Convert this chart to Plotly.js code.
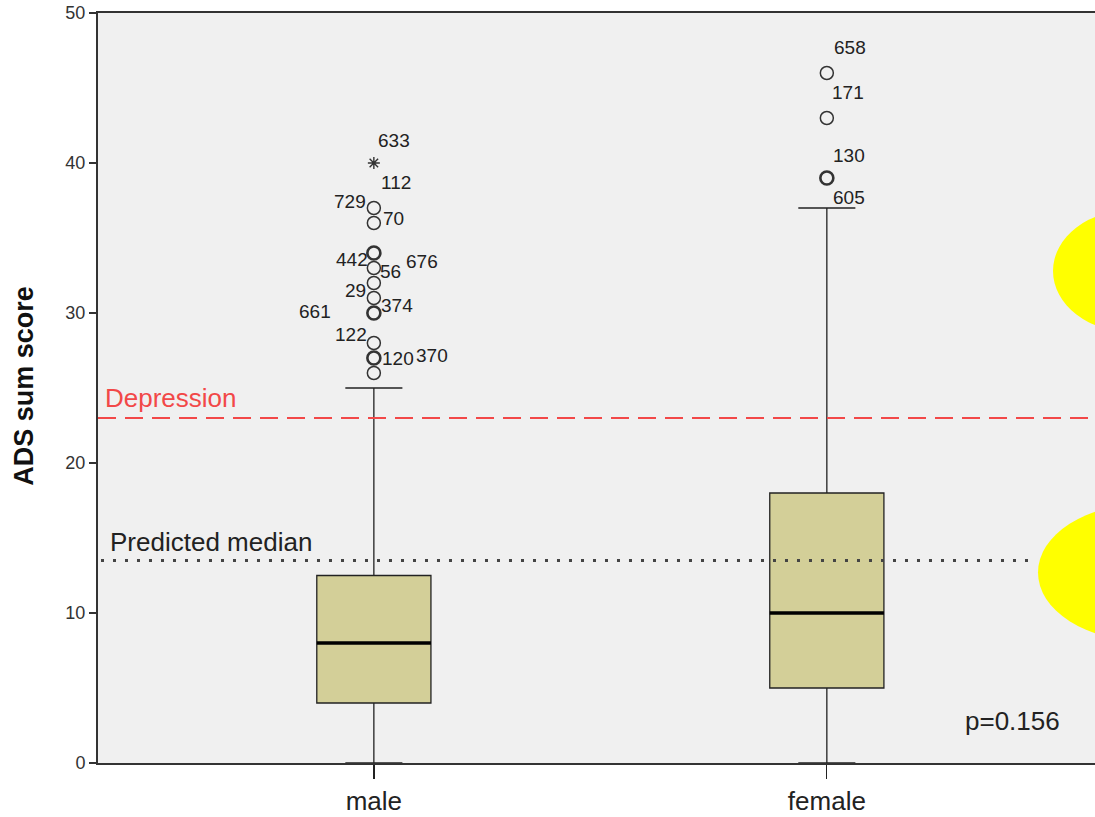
<!DOCTYPE html>
<html>
<head>
<meta charset="utf-8">
<script src="https://cdn.plot.ly/plotly-3.0.1.min.js"></script>
<style>html,body{margin:0;padding:0;background:#fff;}#chart{width:1095px;height:817px;}</style>
</head>
<body>
<div id="chart"></div>
<script>
// ---- data ----
const categories = ["male", "female"];
const q1Values = [4, 5];
const medianValues = [8, 10];
const q3Values = [12.5, 18];
const lowerWhisker = [0, 0];
const upperWhisker = [25, 37];

// outliers (circles) per group: value and number of overlapping cases
const maleOutlierValues = [37, 36, 34, 33, 32, 31, 30, 28, 27, 26];
const maleOutlierCounts = [1, 1, 2, 1, 1, 1, 2, 1, 2, 1];
const femaleOutlierValues = [46, 43, 39];
const femaleOutlierCounts = [1, 1, 2];
// extreme values (stars)
const maleExtremeValues = [40];

// case id labels and the value of the point they belong to
const maleLabelIds = ["633", "112", "729", "70", "442", "56", "676", "29", "374", "661", "122", "120", "370"];
const maleLabelValues = [40, 37, 37, 36, 34, 33, 33, 32, 31, 30, 28, 27, 27];
const femaleLabelIds = ["658", "171", "130", "605"];
const femaleLabelValues = [46, 43, 39, 39];

const depressionCutoff = 23;
const predictedMedian = 13.5;
const pValueText = "p=0.156";

// ---- styling (pixel offsets of labels) ----
const maleLabelOffsets = [[20,-23],[22,-26],[-24,-7],[20,-5],[-22,6],[17,3],[48,-7],[-18,7],[23,7],[-59,-2],[-23,-9],[24,0],[58,-3]];
const femaleLabelOffsets = [[23,-26],[21,-26],[22,-23],[22,19]];

const FONT = "Arial, 'Liberation Sans', sans-serif";
const boxWidth = 0.252;
const xPos = categories.map((c, i) => i);
const lineCol = "#222";

const traces = [];
categories.forEach((c, i) => {
  traces.push({
    type: "box",
    x: [xPos[i]],
    q1: [q1Values[i]],
    median: [medianValues[i]],
    q3: [q3Values[i]],
    lowerfence: [lowerWhisker[i]],
    upperfence: [upperWhisker[i]],
    width: boxWidth,
    whiskerwidth: 0.5,
    fillcolor: "#d3cf98",
    line: { color: lineCol, width: 1.3 },
    hoverinfo: "skip",
    showlegend: false
  });
});

traces.push({
  type: "scatter", mode: "markers",
  x: maleOutlierValues.map(() => xPos[0]), y: maleOutlierValues,
  marker: { symbol: "circle-open", size: 13, color: "#333",
            line: { width: maleOutlierCounts.map(n => n > 1 ? 2.6 : 1.5), color: "#333" } },
  showlegend: false, hoverinfo: "skip"
});
traces.push({
  type: "scatter", mode: "markers",
  x: femaleOutlierValues.map(() => xPos[1]), y: femaleOutlierValues,
  marker: { symbol: "circle-open", size: 13, color: "#333",
            line: { width: femaleOutlierCounts.map(n => n > 1 ? 2.6 : 1.5), color: "#333" } },
  showlegend: false, hoverinfo: "skip"
});
traces.push({
  type: "scatter", mode: "markers",
  x: maleExtremeValues.map(() => xPos[0]), y: maleExtremeValues,
  marker: { symbol: "asterisk-open", size: 10, color: "#333", line: { width: 1.4, color: "#333" } },
  showlegend: false, hoverinfo: "skip"
});

const annotations = [];
const labelFont = { family: FONT, size: 19, color: "#222" };
maleLabelIds.forEach((t, k) => {
  annotations.push({ x: xPos[0], y: maleLabelValues[k], xref: "x", yref: "y", text: t, showarrow: false,
    xshift: maleLabelOffsets[k][0], yshift: -maleLabelOffsets[k][1], font: labelFont });
});
femaleLabelIds.forEach((t, k) => {
  annotations.push({ x: xPos[1], y: femaleLabelValues[k], xref: "x", yref: "y", text: t, showarrow: false,
    xshift: femaleLabelOffsets[k][0], yshift: -femaleLabelOffsets[k][1], font: labelFont });
});
annotations.push({ x: 5/997, xref: "paper", y: depressionCutoff, yref: "y", text: "Depression",
  xanchor: "left", yanchor: "bottom", showarrow: false, yshift: 3,
  font: { family: FONT, size: 26, color: "#f24848" } });
annotations.push({ x: 10/997, xref: "paper", y: predictedMedian, yref: "y", text: "Predicted median",
  xanchor: "left", yanchor: "bottom", showarrow: false, yshift: 2,
  font: { family: FONT, size: 26, color: "#222" } });
annotations.push({ x: (1062-98)/997, xref: "paper", y: 2.8, yref: "y", text: pValueText,
  xanchor: "right", yanchor: "middle", showarrow: false,
  font: { family: FONT, size: 26, color: "#222" } });
annotations.push({ x: -74/997, xref: "paper", y: 0.503, yref: "paper", text: "<b>ADS sum score</b>",
  textangle: -90, xanchor: "center", yanchor: "middle", showarrow: false,
  font: { family: FONT, size: 27, color: "#111" } });

const shapes = [
  { type: "line", xref: "paper", x0: 0, x1: 1, yref: "y", y0: depressionCutoff, y1: depressionCutoff,
    line: { color: "#f24848", width: 2, dash: "18px,9px" }, layer: "above" },
  { type: "line", xref: "paper", x0: 0.003, x1: 0.94, yref: "y", y0: predictedMedian, y1: predictedMedian,
    line: { color: "#444", width: 3, dash: "3px,9px" }, layer: "above" }
];
// thick median lines, derived from data
categories.forEach((c, i) => {
  shapes.push({ type: "line", xref: "x", yref: "y", x0: xPos[i] - boxWidth / 2, x1: xPos[i] + boxWidth / 2,
    y0: medianValues[i], y1: medianValues[i], line: { color: "#000", width: 3.5 }, layer: "above" });
});
// yellow highlight ellipses at right edge
shapes.push({ type: "circle", xref: "paper", yref: "y", x0: (1053-98)/997, x1: (1053+160-98)/997,
  y0: 32.8 - 4.1, y1: 32.8 + 4.1, fillcolor: "#ffff00", line: { width: 0 }, layer: "above" });
shapes.push({ type: "circle", xref: "paper", yref: "y", x0: (1038-98)/997, x1: (1038+216-98)/997,
  y0: 12.7 - 4.6, y1: 12.7 + 4.6, fillcolor: "#ffff00", line: { width: 0 }, layer: "above" });

const layout = {
  width: 1095, height: 817,
  margin: { l: 98, r: 0, t: 13, b: 54 },
  paper_bgcolor: "#ffffff",
  plot_bgcolor: "#f0f0f0",
  showlegend: false,
  xaxis: {
    range: [-0.609, 1.592],
    tickvals: xPos, ticktext: categories,
    showgrid: false, zeroline: false,
    showline: true, linecolor: "#333", linewidth: 2, mirror: true,
    ticks: "outside", ticklen: 14, tickcolor: "#222", tickwidth: 1.3,
    tickfont: { family: FONT, size: 26, color: "#222" }
  },
  yaxis: {
    range: [0, 50],
    tickvals: [0, 10, 20, 30, 40, 50],
    showgrid: false, zeroline: false,
    showline: true, linecolor: "#333", linewidth: 2,
    ticks: "outside", ticklen: 7, tickcolor: "#333", tickwidth: 1.5,
    tickfont: { family: FONT, size: 18, color: "#333" }
  },
  annotations: annotations,
  shapes: shapes
};

Plotly.newPlot("chart", traces, layout, { staticPlot: true, displayModeBar: false });
</script>
</body>
</html>
